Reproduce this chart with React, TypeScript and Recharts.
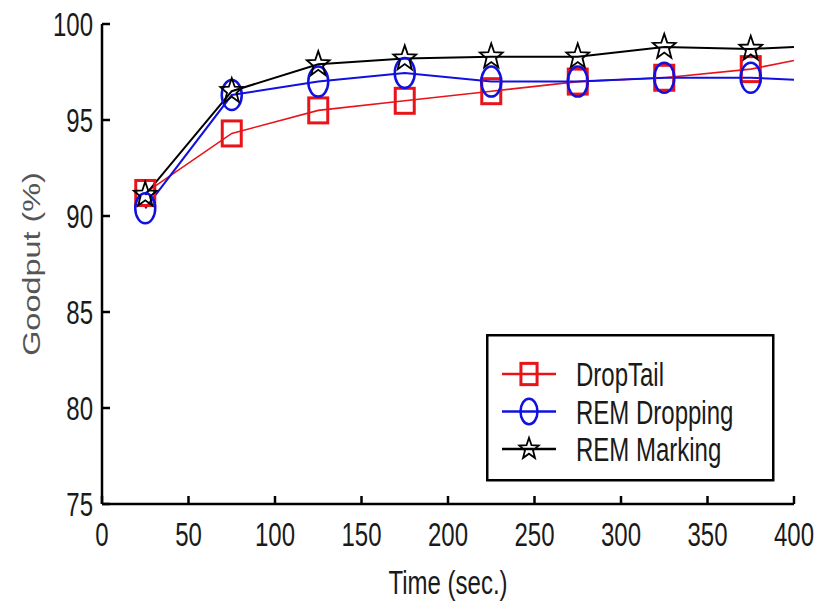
import { LineChart, Line, XAxis, YAxis, Legend } from 'recharts';

// sample times (s); the last point only carries the line to the axis end
const times = [25, 75, 125, 175, 225, 275, 325, 375, 400];
const dropTail = [91.2, 94.3, 95.5, 96.0, 96.5, 97.0, 97.2, 97.65, 98.1];
const remDropping = [90.4, 96.3, 97.0, 97.45, 97.0, 97.0, 97.2, 97.2, 97.1];
const remMarking = [91.1, 96.5, 97.9, 98.2, 98.3, 98.3, 98.8, 98.7, 98.8];

const xTicks = [0, 50, 100, 150, 200, 250, 300, 350, 400];
const yTicks = [75, 80, 85, 90, 95, 100];
const markerCount = 8;

const data = times.map((t, i) => ({
  time: t,
  dropTail: dropTail[i],
  remDropping: remDropping[i],
  remMarking: remMarking[i],
}));

const FONT = '"Liberation Sans", Arial, sans-serif';
const STRETCH = 1.4;

type Shape = 'square' | 'circle' | 'star';

function Marker({ cx, cy, shape, color, scale = 1 }: { cx: number; cy: number; shape: Shape; color: string; scale?: number }) {
  if (shape === 'square') {
    const w = 19 * scale;
    const h = 25 * scale;
    return <rect x={cx - w / 2} y={cy - h / 2} width={w} height={h} fill="none" stroke={color} strokeWidth={3} />;
  }
  if (shape === 'circle') {
    return <ellipse cx={cx} cy={cy} rx={10 * scale} ry={15 * scale} fill="none" stroke={color} strokeWidth={2.5} />;
  }
  const pts: string[] = [];
  for (let k = 0; k < 10; k++) {
    const a = -Math.PI / 2 + (k * Math.PI) / 5;
    const r = k % 2 === 0 ? 12 * scale : 5 * scale;
    pts.push(`${cx + r * Math.cos(a)},${cy + r * Math.sin(a) * 1.1}`);
  }
  return <polygon points={pts.join(' ')} fill="none" stroke={color} strokeWidth={1.8} />;
}

const makeDot = (shape: Shape, color: string) => (props: any) => {
  const { cx, cy, index } = props;
  if (index >= markerCount || cx == null) return <g key={`d-${shape}-${index}`} />;
  return <g key={`d-${shape}-${index}`}><Marker cx={cx} cy={cy} shape={shape} color={color} /></g>;
};

function XTick({ x, y, payload }: any) {
  return (
    <g>
      <line x1={x} y1={y} x2={x} y2={y - 8} stroke="#000" strokeWidth={2.5} />
      <text transform={`translate(${x},${y + 42}) scale(1,${STRETCH})`} textAnchor="middle" fontSize={24} fontFamily={FONT} fill="#1a1a1a">
        {payload.value}
      </text>
    </g>
  );
}

function YTick({ x, y, payload }: any) {
  return (
    <g>
      <line x1={x} y1={y} x2={x + 8} y2={y} stroke="#000" strokeWidth={2.5} />
      <text transform={`translate(${x - 9},${y + 12}) scale(1,${STRETCH})`} textAnchor="end" fontSize={24} fontFamily={FONT} fill="#1a1a1a">
        {payload.value}
      </text>
    </g>
  );
}

const legendShapes: Record<string, Shape> = {
  DropTail: 'square',
  'REM Dropping': 'circle',
  'REM Marking': 'star',
};

function renderLegend(props: any) {
  const items = props.payload || [];
  return (
    <svg width={290} height={148} style={{ display: 'block' }}>
      <rect x={1.25} y={1.25} width={286} height={145} fill="#fff" stroke="#000" strokeWidth={2.5} />
      {items.map((it: any, i: number) => {
        const cy = 40 + i * 37.5;
        return (
          <g key={it.value}>
            <line x1={16} y1={cy} x2={70} y2={cy} stroke={it.color} strokeWidth={2.5} />
            <Marker cx={43} cy={cy} shape={legendShapes[it.value]} color={it.color} scale={0.85} />
            <text transform={`translate(90,${cy + 12}) scale(1,${STRETCH})`} fontSize={24} fontFamily={FONT} fill="#1a1a1a">
              {it.value}
            </text>
          </g>
        );
      })}
    </svg>
  );
}

export default function App() {
  return (
    <div style={{ position: 'absolute', left: 0, top: 0, width: 819, height: 610, background: '#fff' }}>
      <LineChart width={819} height={610} data={data} margin={{ top: 24, right: 25, left: 0, bottom: 0 }}>
        <XAxis
          dataKey="time"
          type="number"
          domain={[0, 400]}
          ticks={xTicks}
          interval={0}
          height={106}
          tickSize={0}
          tickMargin={0}
          tickLine={false}
          axisLine={{ stroke: '#000', strokeWidth: 2.5 }}
          tick={<XTick />}
          label={(p: any) => {
            const vb = p.viewBox;
            const cx = vb.x + vb.width / 2;
            return (
              <text transform={`translate(${cx},${vb.y + 90}) scale(1,${STRETCH})`} textAnchor="middle" fontSize={24} fontFamily={FONT} fill="#1a1a1a">
                Time (sec.)
              </text>
            );
          }}
        />
        <YAxis
          type="number"
          domain={[75, 100]}
          ticks={yTicks}
          interval={0}
          width={102}
          tickSize={0}
          tickMargin={0}
          tickLine={false}
          axisLine={{ stroke: '#000', strokeWidth: 2.5 }}
          tick={<YTick />}
          label={(p: any) => {
            const vb = p.viewBox;
            const cy = vb.y + vb.height / 2;
            return (
              <text transform={`translate(40,${cy}) scale(1,1.35) rotate(-90)`} textAnchor="middle" fontSize={24} fontFamily={FONT} fill="#555">
                Goodput (%)
              </text>
            );
          }}
        />
        <Legend
          layout="horizontal"
          verticalAlign="middle"
          align="center"
          content={renderLegend}
          wrapperStyle={{ position: 'absolute', left: 486, top: 334, width: 290, height: 148 }}
        />
        <Line
          name="DropTail"
          dataKey="dropTail"
          stroke="#e8141a"
          strokeWidth={1.6}
          dot={makeDot('square', '#e8141a')}
          activeDot={false}
          isAnimationActive={false}
        />
        <Line
          name="REM Dropping"
          dataKey="remDropping"
          stroke="#1010e0"
          strokeWidth={2}
          dot={makeDot('circle', '#1010e0')}
          activeDot={false}
          isAnimationActive={false}
        />
        <Line
          name="REM Marking"
          dataKey="remMarking"
          stroke="#000"
          strokeWidth={2}
          dot={makeDot('star', '#000')}
          activeDot={false}
          isAnimationActive={false}
        />
      </LineChart>
    </div>
  );
}
